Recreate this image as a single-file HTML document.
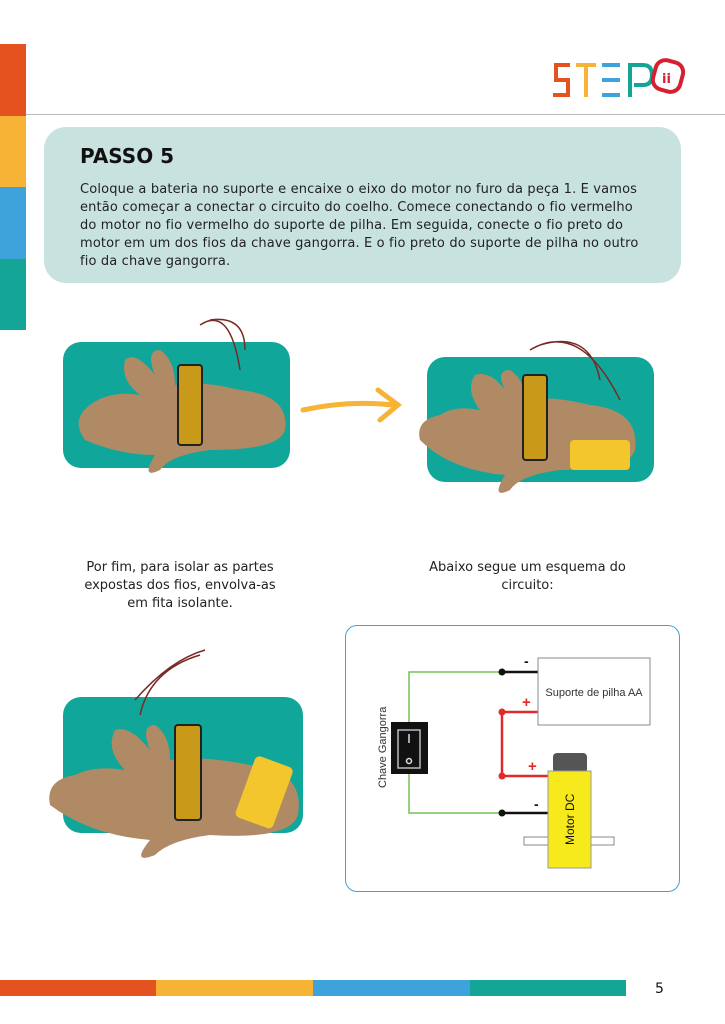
<!DOCTYPE html>
<html><head><meta charset="utf-8"><style>
body{margin:0;width:725px;height:1024px;position:relative;background:#fff;font-family:"DejaVu Sans","Liberation Sans",sans-serif;overflow:hidden}
.a{position:absolute}
</style></head><body>
<div class="a" style="left:0;top:44px;width:26px;height:72px;background:#e4531f"></div>
<div class="a" style="left:0;top:116px;width:26px;height:71px;background:#f6b335"></div>
<div class="a" style="left:0;top:187px;width:26px;height:72px;background:#3fa3db"></div>
<div class="a" style="left:0;top:259px;width:26px;height:71px;background:#14a596"></div>
<div class="a" style="left:26px;top:114px;width:699px;height:1px;background:#bbb"></div>
<svg class="a" style="left:548px;top:55px" width="140" height="50">
<path d="M22 10H8V25H20V40H5" fill="none" stroke="#e4531f" stroke-width="4"/>
<path d="M28 10H48M38 12V42" fill="none" stroke="#f6b335" stroke-width="4"/>
<path d="M54 10H72M54 25H72M54 40H72" fill="none" stroke="#3fa3db" stroke-width="4"/>
<path d="M82 42V10H95Q104 10 104 20Q104 30 95 30H86" fill="none" stroke="#14a596" stroke-width="4"/>
<rect x="106" y="6" width="28" height="30" rx="10" fill="none" stroke="#d6202f" stroke-width="4" transform="rotate(15 120 21)"/>
<text x="114" y="28" font-size="13" fill="#d6202f" font-weight="bold">ii</text>
</svg>
<div class="a" style="left:44px;top:127px;width:637px;height:156px;background:#c8e2e0;border-radius:22px"></div>
<div class="a" style="left:80px;top:144px;font-size:20px;font-weight:bold;color:#111">PASSO 5</div>
<div class="a" style="left:80px;top:181px;white-space:nowrap;font-size:13px;letter-spacing:0.15px;line-height:18px;color:#222">Coloque a bateria no suporte e encaixe o eixo do motor no furo da peça 1. E vamos<br>então começar a conectar o circuito do coelho. Comece conectando o fio vermelho<br>do motor no fio vermelho do suporte de pilha. Em seguida, conecte o fio preto do<br>motor em um dos fios da chave gangorra. E o fio preto do suporte de pilha no outro<br>fio da chave gangorra.</div>

<div class="a" style="left:63px;top:342px;width:227px;height:126px;background:#10a79a;border-radius:18px"></div>
<svg class="a" style="left:60px;top:310px" width="250" height="180">
<path d="M25 130Q10 110 30 95Q50 80 80 85Q60 70 65 50Q75 40 95 65Q85 40 100 40Q115 50 115 75Q140 70 180 80Q230 85 225 120Q220 140 150 140Q110 145 100 160Q80 170 95 145Q60 145 25 130Z" fill="#b08a64"/>
<rect x="118" y="55" width="24" height="80" rx="3" fill="#c99a1a" stroke="#222" stroke-width="2"/>
<path d="M140 15Q170 -5 180 60M150 10Q185 5 185 40" fill="none" stroke="#7a2a25" stroke-width="1.5"/>
</svg>
<svg class="a" style="left:298px;top:385px" width="110" height="40"><path d="M5 25Q50 15 95 20M80 5L100 20L82 35" fill="none" stroke="#f6b335" stroke-width="5" stroke-linecap="round"/></svg>
<div class="a" style="left:427px;top:357px;width:227px;height:125px;background:#10a79a;border-radius:18px"></div>
<svg class="a" style="left:410px;top:320px" width="250" height="180">
<path d="M10 120Q5 100 30 95Q45 85 70 90Q55 70 65 55Q80 50 95 70Q85 50 100 50Q115 60 115 80Q140 75 180 85Q230 90 225 130Q220 150 150 150Q110 155 100 170Q80 180 95 155Q40 150 10 120Z" fill="#b08a64"/>
<rect x="113" y="55" width="24" height="85" rx="3" fill="#c99a1a" stroke="#222" stroke-width="2"/>
<rect x="160" y="120" width="60" height="30" rx="4" fill="#f2c62c"/>
<path d="M120 30Q170 0 210 80M130 25Q180 10 190 60" fill="none" stroke="#7a2a25" stroke-width="1.5"/>
</svg>
<div class="a" style="left:70px;top:559px;width:220px;text-align:center;font-size:13px;line-height:18px;color:#222">Por fim, para isolar as partes<br>expostas dos fios, envolva-as<br>em fita isolante.</div>
<div class="a" style="left:405px;top:559px;width:245px;text-align:center;font-size:13px;line-height:18px;color:#222">Abaixo segue um esquema do<br>circuito:</div>
<div class="a" style="left:63px;top:697px;width:240px;height:136px;background:#10a79a;border-radius:18px"></div>
<svg class="a" style="left:40px;top:640px" width="280" height="220">
<path d="M10 165Q5 140 35 135Q55 125 85 130Q65 110 75 90Q90 85 110 110Q100 85 115 85Q130 95 130 120Q160 115 210 125Q265 130 258 175Q250 200 170 195Q130 200 115 215Q90 225 110 200Q50 195 10 165Z" fill="#b08a64"/>
<rect x="135" y="85" width="26" height="95" rx="3" fill="#c99a1a" stroke="#222" stroke-width="2"/>
<rect x="205" y="120" width="40" height="65" rx="5" fill="#f2c62c" transform="rotate(20 225 150)"/>
<path d="M95 60Q130 20 165 10M100 75Q110 30 160 15" fill="none" stroke="#7a2a25" stroke-width="1.5"/>
</svg>
<div class="a" style="left:345px;top:625px;width:333px;height:265px;border:1.5px solid #3fa3db;border-radius:12px"></div>
<svg class="a" style="left:0;top:0;font-family:'Liberation Sans',sans-serif" width="725" height="1024">
<polyline points="502,672 409,672 409,813 502,813" fill="none" stroke="#76c05a" stroke-width="1.5"/>
<line x1="502" y1="672" x2="538" y2="672" stroke="#111" stroke-width="2.5"/>
<line x1="502" y1="813" x2="548" y2="813" stroke="#111" stroke-width="2.5"/>
<polyline points="538,712 502,712 502,776 548,776" fill="none" stroke="#e02a2a" stroke-width="2.5"/>
<circle cx="502" cy="672" r="3.5" fill="#111"/><circle cx="502" cy="813" r="3.5" fill="#111"/>
<circle cx="502" cy="712" r="3.5" fill="#e02a2a"/><circle cx="502" cy="776" r="3.5" fill="#e02a2a"/>
<rect x="538" y="658" width="112" height="67" fill="#fff" stroke="#888"/>
<text x="594" y="696" font-size="11" text-anchor="middle" fill="#333">Suporte de pilha AA</text>
<text x="524" y="666" font-size="14" fill="#111" font-weight="bold">-</text>
<text x="522" y="707" font-size="15" fill="#e02a2a" font-weight="bold">+</text>
<text x="528" y="771" font-size="15" fill="#e02a2a" font-weight="bold">+</text>
<text x="534" y="809" font-size="14" fill="#111" font-weight="bold">-</text>
<rect x="391" y="722" width="37" height="52" fill="#111"/>
<rect x="398" y="730" width="22" height="38" fill="none" stroke="#bbb" stroke-width="1.5"/>
<line x1="409" y1="734" x2="409" y2="743" stroke="#ddd" stroke-width="1.5"/>
<circle cx="409" cy="761" r="2.5" fill="none" stroke="#ddd" stroke-width="1.5"/>
<text transform="translate(386,788) rotate(-90)" font-size="11" fill="#333">Chave Gangorra</text>
<rect x="524" y="837" width="90" height="8" fill="#fff" stroke="#888"/>
<rect x="553" y="753" width="34" height="20" rx="4" fill="#555"/>
<rect x="548" y="771" width="43" height="97" fill="#f7ea1c" stroke="#999"/>
<text transform="translate(574,845) rotate(-90)" font-size="12" fill="#111">Motor DC</text>
</svg>
<div class="a" style="left:0;top:980px;width:156px;height:16px;background:#e4531f"></div>
<div class="a" style="left:156px;top:980px;width:157px;height:16px;background:#f6b335"></div>
<div class="a" style="left:313px;top:980px;width:157px;height:16px;background:#3fa3db"></div>
<div class="a" style="left:470px;top:980px;width:156px;height:16px;background:#14a596"></div>
<div class="a" style="left:655px;top:981px;font-size:14px;color:#111">5</div>
</body></html>
